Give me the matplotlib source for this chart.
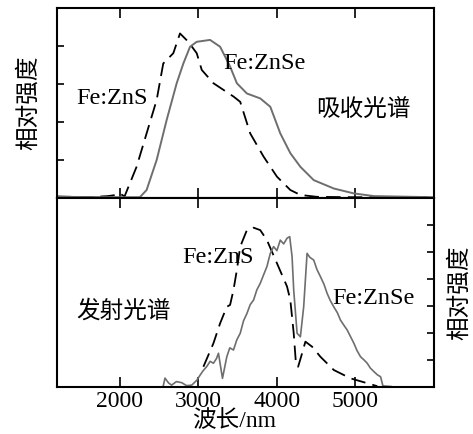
import numpy as np
import matplotlib.pyplot as plt

plt.rcParams['font.family'] = ['Liberation Serif', 'Noto Sans CJK SC']
plt.rcParams['font.size'] = 17

# 吸收光谱 (上图)
abs_zns_x = [1200, 1600, 1850, 1950, 2000, 2060, 2213, 2341, 2469, 2553, 2681, 2766,
             2872, 2979, 3043, 3192, 3447, 3533, 3660, 3830, 4001, 4171, 4299, 4511, 5000, 6000]
abs_zns_y = [0.04, 0.02, 0.05, 0.08, 0.12, 0.04, 0.82, 1.70, 2.58, 3.54, 3.81, 4.33,
             4.11, 3.81, 3.37, 3.02, 2.67, 2.53, 1.70, 1.09, 0.56, 0.21, 0.08, 0.03, 0.02, 0.02]

abs_znse_x = [1200, 2000, 2255, 2341, 2469, 2596, 2724, 2809, 2894, 2979, 3149, 3277,
              3404, 3490, 3618, 3788, 3916, 4043, 4171, 4299, 4469, 4724, 4980, 5235, 6000]
abs_znse_y = [0.03, 0.02, 0.02, 0.21, 1.00, 2.05, 3.02, 3.54, 3.98, 4.11, 4.16, 3.98,
              3.46, 3.02, 2.75, 2.62, 2.40, 1.70, 1.18, 0.82, 0.47, 0.25, 0.12, 0.05, 0.02]

# 发射光谱 (下图)
em_zns_x = [3064, 3192, 3277, 3362, 3404, 3447, 3490, 3533, 3618, 3703, 3788, 3873,
            4001, 4129, 4171, 4214, 4244, 4270, 4321, 4363, 4449, 4554, 4724, 4937, 5150, 5278]
em_zns_y = [0.75, 1.62, 2.36, 2.97, 3.04, 3.59, 4.33, 5.20, 5.81, 5.90, 5.81, 5.44,
            4.58, 3.72, 3.22, 1.99, 0.81, 0.75, 1.25, 1.68, 1.49, 1.12, 0.63, 0.32, 0.14, 0.03]

em_znse_x = [2553, 2575, 2620, 2660, 2720, 2788, 2850, 2916, 2980, 3022, 3060, 3107, 3150,
             3192, 3230, 3256, 3307, 3362, 3400, 3447, 3490, 3533, 3575, 3618, 3660, 3703,
             3745, 3788, 3830, 3873, 3916, 3958, 4000, 4043, 4086, 4129, 4163, 4193, 4214,
             4257, 4299, 4341, 4384, 4420, 4469, 4510, 4554, 4600, 4639, 4680, 4724, 4770,
             4809, 4850, 4895, 4940, 4980, 5020, 5065, 5110, 5150, 5190, 5235, 5280, 5320,
             5350, 5450]
em_znse_y = [0.04, 0.33, 0.15, 0.07, 0.20, 0.16, 0.05, 0.07, 0.25, 0.44, 0.60, 0.76, 0.95,
             0.88, 1.05, 1.25, 0.32, 1.12, 1.45, 1.37, 1.75, 1.99, 2.45, 2.72, 3.05, 3.22,
             3.60, 3.84, 4.15, 4.46, 4.95, 5.20, 5.05, 5.44, 5.30, 5.51, 5.57, 4.83, 3.59,
             1.99, 1.86, 2.97, 4.95, 4.80, 4.70, 4.35, 4.09, 3.80, 3.47, 3.20, 2.97, 2.75,
             2.48, 2.30, 2.11, 1.85, 1.62, 1.35, 1.12, 1.00, 0.88, 0.70, 0.57, 0.45, 0.38,
             0.04, 0.02]

xticks = [2000, 3000, 4000, 5000]

fig = plt.figure(figsize=(4.73, 4.34), dpi=100)
ax1 = fig.add_axes([0.1205, 0.5438, 0.797, 0.4378])
ax2 = fig.add_axes([0.1205, 0.1083, 0.797, 0.4355], sharex=ax1)

gray = '#6e6e6e'
ax1.plot(abs_zns_x, abs_zns_y, color='black', lw=1.3, dashes=(8, 4))
ax1.plot(abs_znse_x, abs_znse_y, color=gray, lw=1.4)
ax2.plot(em_zns_x, em_zns_y, color='black', lw=1.3, dashes=(8, 4))
ax2.plot(em_znse_x, em_znse_y, color=gray, lw=1.2)

ax1.set_xlim(1200, 6000)
ax1.set_ylim(0, 5)
ax2.set_ylim(0, 7)
ax1.set_xticks(xticks)
ax1.set_yticks([1, 2, 3, 4])
ax2.set_yticks([1, 2, 3, 4, 5, 6])

ax1.tick_params(axis='x', direction='in', top=True, bottom=True, labelbottom=False, length=7, width=1.2)
ax1.tick_params(axis='y', direction='in', left=True, right=False, labelleft=False, length=5, width=1.2)
ax2.tick_params(axis='x', direction='in', top=True, bottom=True, length=7, width=1.2, pad=3)
ax2.tick_params(axis='y', direction='in', left=False, right=True, labelleft=False, length=5, width=1.2)

for ax in (ax1, ax2):
    for s in ax.spines.values():
        s.set_linewidth(1.5)

cjk = ['Noto Sans CJK SC', 'DejaVu Sans']
ax1.set_ylabel('相对强度', family=cjk, fontsize=17, labelpad=12)
ax2.yaxis.set_label_position('right')
ax2.set_ylabel('相对强度', family=cjk, fontsize=17, labelpad=10)
ax2.set_xlabel('波长/nm', family=['Liberation Serif', 'Noto Sans CJK SC'], fontsize=17)
ax2.xaxis.set_label_coords(0.47, -0.125)

ax1.text(1450, 2.62, 'Fe:ZnS', fontsize=17.5, va='center')
ax1.text(3320, 3.55, 'Fe:ZnSe', fontsize=17.5, va='center')
ax1.text(4500, 2.32, '吸收光谱', family=cjk, fontsize=17, va='center')
ax2.text(2790, 4.81, 'Fe:ZnS', fontsize=17.5, va='center')
ax2.text(1450, 2.8, '发射光谱', family=cjk, fontsize=17, va='center')
ax2.text(4700, 3.26, 'Fe:ZnSe', fontsize=17.5, va='center')

fig.savefig('out.png', dpi=100)
